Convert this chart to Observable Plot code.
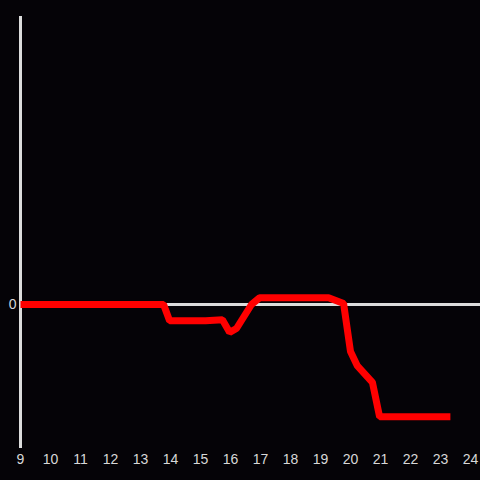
<!DOCTYPE html>
<html><head><meta charset="utf-8">
<script src="https://cdn.jsdelivr.net/npm/d3@7"></script>
<script src="https://cdn.jsdelivr.net/npm/@observablehq/plot@0.6"></script>
<style>
html,body{margin:0;padding:0;background:#050307;}
</style>
</head><body>
<div id="chart"></div>
<script>
const hours = [9, 13.77, 13.97, 15.17, 15.73, 15.97, 16.2, 16.7, 16.97, 19.27, 19.77, 20.0, 20.23, 20.73, 20.97, 23.33];
const values = [0, 0, -0.17, -0.17, -0.16, -0.29, -0.25, 0, 0.07, 0.07, 0.01, -0.49, -0.64, -0.81, -1.17, -1.17];
const xTicks = d3.range(9, 25);
const yTicks = [0];

const data = hours.map((h, i) => ({h, v: values[i]}));

const chart = Plot.plot({
  width: 480,
  height: 480,
  marginLeft: 20,
  marginRight: 10,
  marginTop: 16,
  marginBottom: 32,
  style: {background: "#050307", color: "#d8d8d8", fontFamily: "Liberation Sans, Arial, sans-serif", fontSize: "14px"},
  x: {domain: [9, 24], ticks: xTicks, tickSize: 0, tickPadding: 6, tickFormat: d => String(d), label: null},
  y: {domain: [-1.5, 3], ticks: yTicks, tickSize: 0, tickPadding: 4, tickFormat: d => String(d), label: null},
  marks: [
    Plot.ruleY([0], {x1: 9, x2: 24.34, stroke: "#dcdcdc", strokeWidth: 3}),
    Plot.ruleX([9], {stroke: "#dcdcdc", strokeWidth: 3}),
    Plot.line(data, {x: "h", y: "v", stroke: "#ff0000", strokeWidth: 7, strokeLinejoin: "miter", strokeLinecap: "butt"})
  ]
});
chart.style.overflow = "visible";
document.getElementById("chart").append(chart);
</script>
</body></html>
